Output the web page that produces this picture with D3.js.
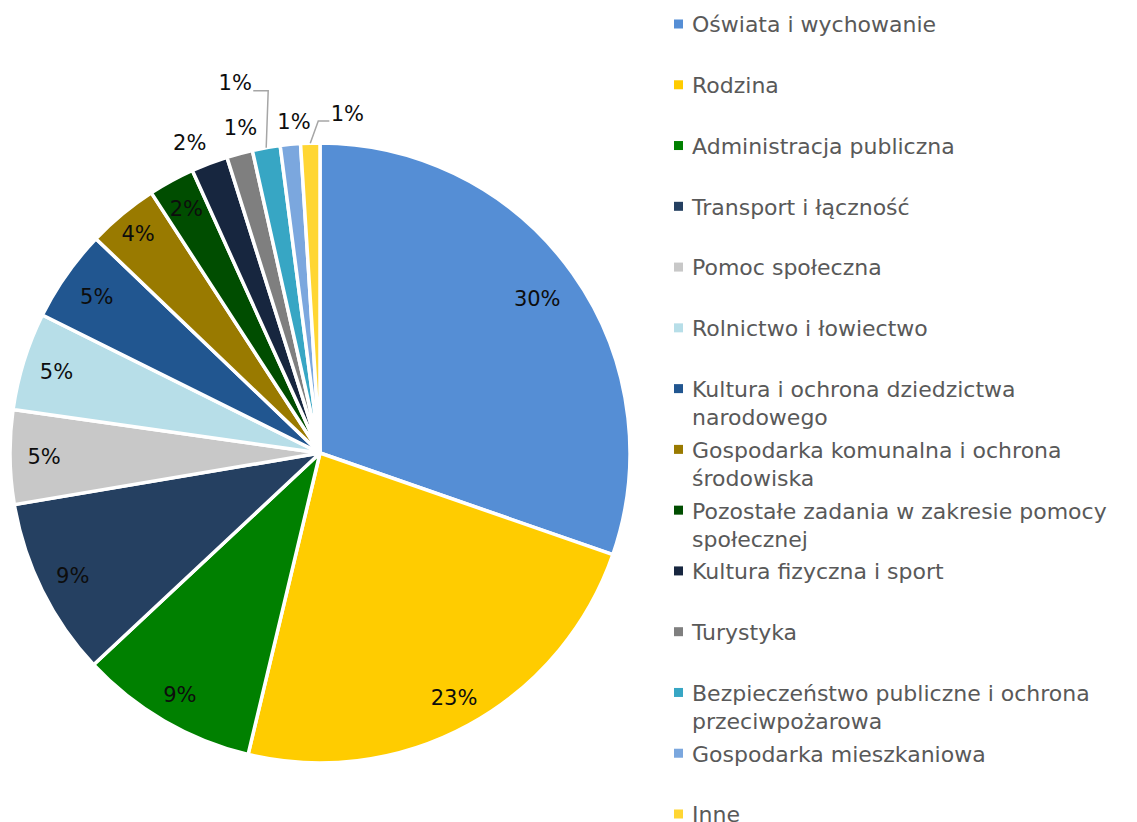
<!DOCTYPE html>
<html>
<head>
<meta charset="utf-8">
<script src="https://cdn.jsdelivr.net/npm/d3@7"></script>
<style>
    body { margin: 0; background: #ffffff; }
    svg { display: block; }
</style>
</head>
<body>
<div id="chart"></div>
<script>
const WIDTH = 1137;
const HEIGHT = 822;

const categories = [
    "Oświata i wychowanie",
    "Rodzina",
    "Administracja publiczna",
    "Transport i łączność",
    "Pomoc społeczna",
    "Rolnictwo i łowiectwo",
    "Kultura i ochrona dziedzictwa\nnarodowego",
    "Gospodarka komunalna i ochrona\nśrodowiska",
    "Pozostałe zadania w zakresie pomocy\nspołecznej",
    "Kultura fizyczna i sport",
    "Turystyka",
    "Bezpieczeństwo publiczne i ochrona\nprzeciwpożarowa",
    "Gospodarka mieszkaniowa",
    "Inne"
];

const shares = [30.3, 23.4, 9.3, 9.3, 4.9, 5.1, 4.8, 3.7, 2.4, 1.9, 1.35, 1.45, 1.05, 1.0];

const colors = ["#558ED5", "#FFCC00", "#008000", "#254061", "#C8C8C8", "#B7DEE8", "#215690",
    "#997A00", "#004D00", "#17263F", "#7F7F7F", "#37A6C4", "#7BA7DE", "#FFD633"];

// label placement: radius factor and angle shift (degrees); leader = draw a connector
const labelPlace = [
    {r: 0.86}, {r: 0.90}, {r: 0.90}, {r: 0.89}, {r: 0.89}, {r: 0.89}, {r: 0.88}, {r: 0.92}, {r: 0.90},
    {r: 1.085, da: -1.9}, {r: 1.08, da: 1.3}, {r: 1.225, da: -2.9, leader: true},
    {r: 1.073, da: 1.0}, {r: 1.10, da: 6.4, leader: true}
];

const cx = 320, cy = 453, radius = 310;
const fontFamily = "'Century Gothic', 'DejaVu Sans', sans-serif";

const data = categories.map((c, i) => ({key: c, value: shares[i], color: colors[i], place: labelPlace[i]}));
const total = d3.sum(shares);
const pct = d3.format(".0%");

const svg = d3.select("#chart").append("svg")
    .attr("width", WIDTH)
    .attr("height", HEIGHT)
    .style("font-family", fontFamily);

const pie = d3.pie()
    .sort(null)
    .value(d => d.value);

const arc = d3.arc()
    .innerRadius(0)
    .outerRadius(radius);

const arcs = pie(data);

const g = svg.append("g")
    .attr("transform", "translate(" + cx + "," + cy + ")");

g.selectAll(".slice")
    .data(arcs)
    .enter()
    .append("path")
    .attr("class", "slice")
    .attr("d", arc)
    .style("fill", d => d.data.color)
    .style("stroke", "#ffffff")
    .style("stroke-width", 3.5)
    .style("stroke-linejoin", "round");

function labelPos(d) {
    let a = (d.startAngle + d.endAngle) / 2 + (d.data.place.da || 0) * Math.PI / 180,
        r = radius * d.data.place.r;
    return [Math.sin(a) * r, -Math.cos(a) * r];
}

g.selectAll(".label")
    .data(arcs)
    .enter()
    .append("text")
    .attr("class", "label")
    .attr("x", d => labelPos(d)[0])
    .attr("y", d => labelPos(d)[1])
    .attr("text-anchor", "middle")
    .attr("dy", "0.36em")
    .style("font-size", "21px")
    .style("fill", "#0d0d0d")
    .text(d => pct(d.data.value / total));

// connectors for the labels pushed away from their slices
g.selectAll(".leader")
    .data(arcs.filter(d => d.data.place.leader))
    .enter()
    .append("polyline")
    .attr("class", "leader")
    .attr("points", d => {
        let a = (d.startAngle + d.endAngle) / 2,
            ex = Math.sin(a) * radius,
            ey = -Math.cos(a) * radius,
            p = labelPos(d),
            side = p[0] < ex ? 1 : -1,
            sx = p[0] + side * 18,
            sy = p[1] + 8,
            kx = ex + side * (side > 0 ? 2 : -8);
        return [[sx, sy], [kx, sy], [ex, ey]].map(q => q.join(",")).join(" ");
    })
    .style("fill", "none")
    .style("stroke", "#A6A6A6")
    .style("stroke-width", 1.5);

// legend
const legendY = d3.scalePoint()
    .domain(categories)
    .range([24, 814]);

const legend = svg.append("g")
    .attr("class", "legend")
    .attr("transform", "translate(674,0)");

const item = legend.selectAll(".item")
    .data(data)
    .enter()
    .append("g")
    .attr("class", "item")
    .attr("transform", d => "translate(0," + legendY(d.key) + ")");

item.append("rect")
    .attr("x", 0)
    .attr("y", -4.5)
    .attr("width", 9)
    .attr("height", 9)
    .style("fill", d => d.color);

item.append("text")
    .attr("x", 18)
    .attr("y", 0)
    .style("font-size", "22px")
    .style("fill", "#595959")
    .selectAll("tspan")
    .data(d => d.key.split("\n"))
    .enter()
    .append("tspan")
    .attr("x", 18)
    .attr("dy", (t, i) => i === 0 ? "0.38em" : "28px")
    .text(t => t);
</script>
</body>
</html>
